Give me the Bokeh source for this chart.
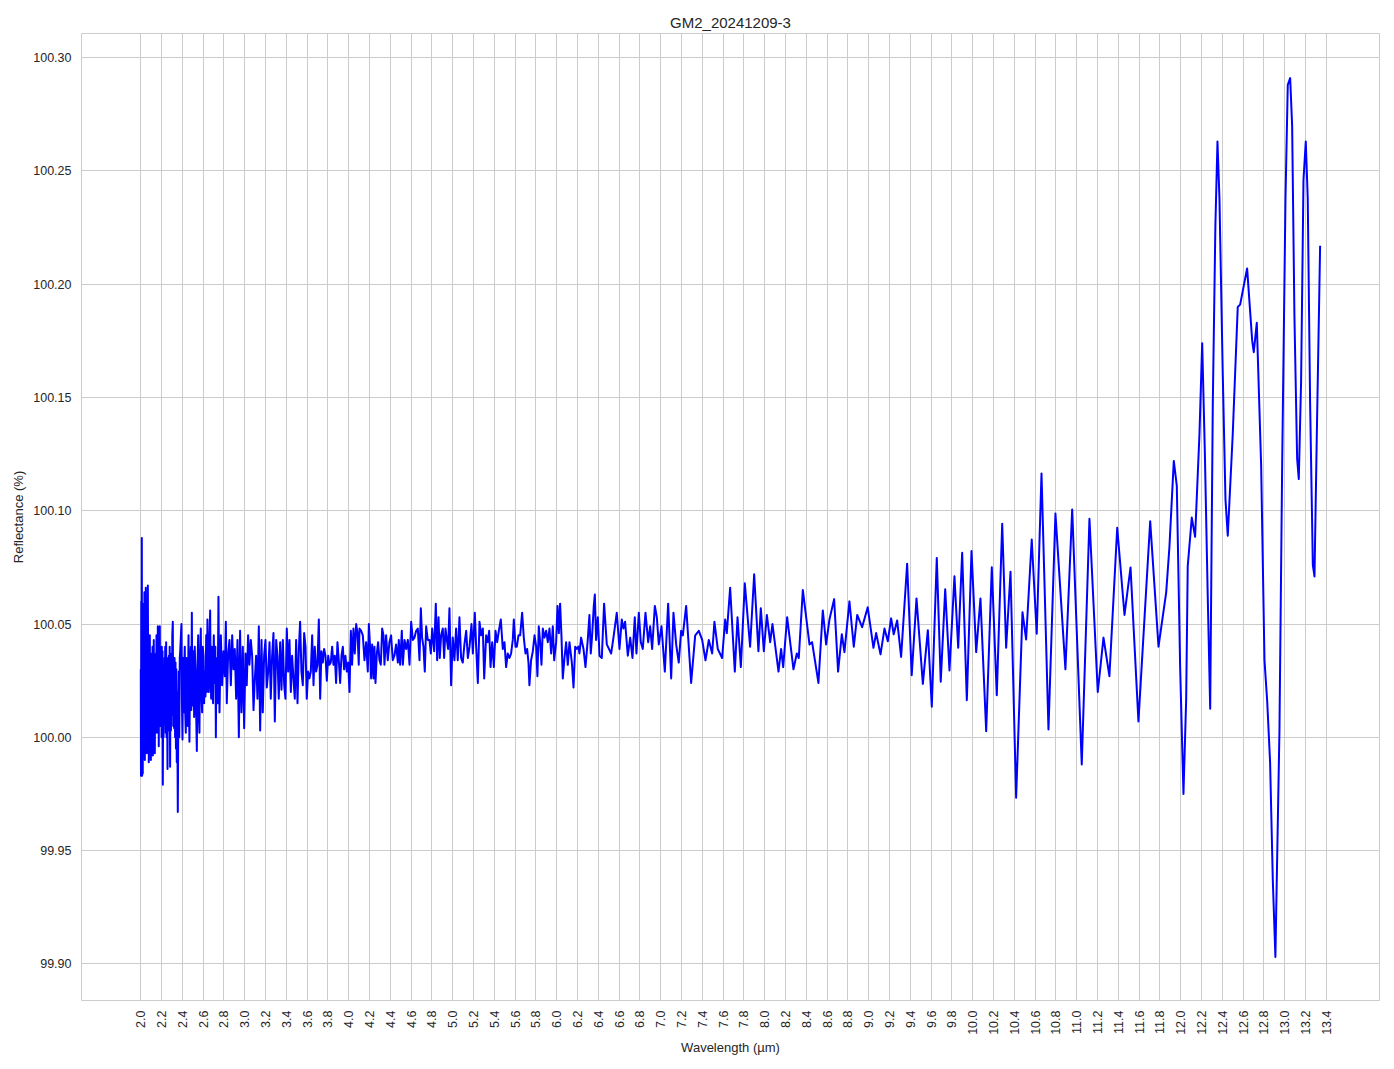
import math
from bokeh.plotting import figure
from bokeh.models import Range1d, FixedTicker, PrintfTickFormatter, ColumnDataSource
from bokeh.embed import file_html
from bokeh.resources import INLINE

# ---- data ----
wl_dense = [
    2.000,2.002,2.005,2.008,2.010,2.013,2.016,2.019,2.022,2.025,
    2.029,2.032,2.035,2.039,2.042,2.045,2.048,2.052,2.055,2.058,
    2.062,2.065,2.068,2.072,2.075,2.077,2.081,2.084,2.087,2.091,
    2.094,2.097,2.101,2.104,2.106,2.110,2.113,2.116,2.120,2.123,
    2.125,2.129,2.132,2.135,2.139,2.142,2.145,2.149,2.151,2.154,
    2.158,2.161,2.164,2.168,2.171,2.173,2.177,2.180,2.183,2.187,
    2.190,2.193,2.197,2.200,2.202,2.206,2.209,2.212,2.216,2.219,
    2.222,2.226,2.229,2.231,2.235,2.240,2.244,2.248,2.252,2.257,
    2.261,2.265,2.270,2.274,2.278,2.282,2.286,2.290,2.295,2.299,
    2.303,2.308,2.312,2.316,2.321,2.325,2.330,2.334,2.338,2.342,
    2.346,2.350,2.356,2.361,2.366,2.370,2.375,2.379,
    2.391,2.396,2.401,2.406,2.411,2.417,2.423,2.428,2.433,2.440,
    2.446,2.452,2.459,2.463,2.468,2.474,2.481,2.486,2.491,2.495,
    2.500,2.506,2.513,2.519,2.526,2.532,2.539,2.545,2.552,2.558,
    2.564,2.570,2.577,2.583,2.590,2.596,2.603,2.609,2.616,2.622,
    2.629,2.635,2.641,2.648,2.654,2.660,2.667,2.672,2.677,2.683,
    2.689,2.695,2.702,2.707,2.712,2.717,2.722,2.727,2.731,2.739,
    2.747,2.752,2.757,
]
refl_dense = [
    100.030,99.983,100.060,99.985,100.088,99.983,100.058,99.984,100.040,100.000,
    100.059,99.992,100.064,99.990,100.030,99.995,100.066,100.005,100.045,99.993,
    100.035,100.000,100.067,100.010,100.040,99.989,100.030,100.000,100.045,99.995,
    100.035,99.990,100.030,100.005,100.037,99.998,100.040,99.992,100.025,100.008,
    100.043,100.000,100.030,99.993,100.035,100.004,100.037,100.010,100.045,100.002,
    100.030,100.006,100.049,100.004,100.035,99.996,100.030,100.010,100.049,100.005,
    100.035,100.017,100.030,100.000,100.040,100.005,100.038,99.979,100.030,100.000,
    100.029,100.006,100.035,100.011,100.040,100.002,100.042,100.000,100.030,99.986,
    100.035,100.003,100.036,100.005,100.040,99.987,100.030,100.003,100.037,100.010,
    100.045,100.051,100.005,100.030,100.004,100.035,100.000,100.033,99.995,100.030,
    99.989,100.020,99.967,100.010,100.029,100.000,100.035,100.038,
    100.050,100.015,99.999,100.035,100.011,100.030,100.040,100.010,100.002,100.035,
    100.027,100.005,100.045,100.015,99.998,100.032,100.040,100.012,100.055,100.020,
    100.014,100.038,100.009,100.040,100.029,100.012,99.994,100.030,100.045,100.010,
    100.002,100.033,100.048,100.020,100.011,100.040,100.036,100.015,100.029,100.018,
    100.045,100.020,100.052,100.030,100.020,100.040,100.056,100.025,100.017,100.040,
    100.034,100.015,100.045,100.030,100.024,100.040,100.000,100.035,100.029,100.015,
    100.062,100.030,100.011,
]

wl_noisy = [
    2.770,2.782,2.795,2.808,2.818,2.827,2.840,2.853,2.866,2.879,
    2.891,2.904,2.917,2.930,2.943,2.955,2.968,2.981,2.994,3.007,
    3.019,3.032,3.045,3.058,3.071,3.084,3.096,3.109,3.122,3.135,
    3.148,3.161,3.173,3.186,3.199,3.212,3.225,3.238,3.250,3.263,
    3.276,3.289,3.302,3.314,3.327,3.340,3.353,3.366,3.379,3.391,
    3.404,3.417,3.430,3.443,3.455,3.468,3.481,3.494,3.507,3.520,
    3.532,3.545,3.558,3.571,3.584,3.596,3.609,3.622,3.635,3.648,
    3.661,3.673,3.686,3.699,3.712,3.725,3.737,3.750,3.763,3.776,
    3.789,3.802,3.814,3.827,3.840,3.853,3.866,3.878,3.891,3.904,
    3.917,3.930,3.943,3.955,3.968,3.981,3.994,4.007,4.020,4.032,
    4.045,4.058,4.071,4.084,4.096,
]
refl_noisy = [
    100.045,100.023,100.038,100.027,100.051,100.015,100.037,100.043,100.023,100.045,
    100.030,100.039,100.017,100.043,100.000,100.047,100.011,100.040,100.004,100.037,
    100.023,100.045,100.032,100.043,100.036,100.012,100.025,100.036,100.017,100.049,
    100.003,100.043,100.011,100.036,100.043,100.022,100.029,100.042,100.017,100.036,
    100.046,100.007,100.043,100.036,100.017,100.042,100.021,100.043,100.023,100.017,
    100.048,100.029,100.043,100.020,100.036,100.026,100.017,100.043,100.015,100.039,
    100.051,100.029,100.023,100.046,100.040,100.017,100.029,100.026,100.029,100.045,
    100.023,100.040,100.029,100.032,100.052,100.017,100.038,100.033,100.039,100.036,
    100.025,100.036,100.032,100.033,100.040,100.032,100.036,100.024,100.042,100.034,
    100.024,100.036,100.040,100.030,100.036,100.029,100.033,100.020,100.047,100.032,
    100.048,100.037,100.050,100.046,100.032,
]

wl_mid = [
    4.103,4.119,4.135,4.151,4.167,4.183,4.193,4.205,4.215,4.225,
    4.238,4.247,4.257,4.270,4.282,4.295,4.308,4.321,4.334,4.343,
    4.359,4.375,4.391,4.407,4.423,4.439,4.455,4.472,4.481,4.494,
    4.510,4.520,4.536,4.552,4.568,4.584,4.600,4.616,4.632,4.648,
    4.664,4.680,4.693,4.705,4.718,4.731,4.744,4.760,4.776,4.789,
    4.802,4.821,4.837,4.850,4.863,4.875,4.888,4.904,4.917,4.930,
    4.943,4.955,4.968,4.984,5.000,5.016,5.032,5.048,5.064,5.080,
    5.096,5.112,5.129,5.145,5.161,5.180,5.193,5.212,5.225,5.241,
    5.257,5.273,5.289,5.302,5.321,5.337,5.350,5.363,5.379,5.395,
    5.411,5.427,5.443,5.462,5.481,5.497,5.513,5.529,5.545,5.561,
    5.577,5.587,5.603,5.616,5.632,5.648,5.667,5.683,5.699,5.715,
    5.728,5.737,5.753,5.770,5.786,5.802,5.814,5.827,5.840,5.853,
    5.866,5.882,5.898,5.914,5.930,5.946,5.962,5.975,5.994,6.007,
    6.020,6.032,6.045,6.058,6.074,6.090,6.106,6.122,6.145,6.161,
    6.177,6.193,6.209,6.218,6.234,6.257,6.276,6.298,6.314,6.327,
    6.340,6.356,6.366,6.378,6.395,
]
refl_mid = [
    100.048,100.047,100.045,100.034,100.042,100.029,100.050,100.040,100.026,100.041,
    100.026,100.040,100.024,100.037,100.042,100.034,100.032,100.048,100.045,100.032,
    100.045,100.034,100.042,100.045,100.034,100.036,100.041,100.033,100.043,100.032,
    100.047,100.032,100.043,100.039,100.043,100.032,100.051,100.043,100.044,100.047,
    100.048,100.034,100.057,100.044,100.040,100.029,100.049,100.043,100.043,100.037,
    100.048,100.038,100.059,100.034,100.053,100.035,100.045,100.048,100.035,100.048,
    100.043,100.039,100.057,100.023,100.044,100.034,100.048,100.034,100.053,100.035,
    100.033,100.041,100.047,100.035,100.040,100.050,100.037,100.055,100.040,100.024,
    100.051,100.045,100.048,100.026,100.045,100.042,100.047,100.031,100.042,100.031,
    100.047,100.042,100.047,100.052,100.039,100.042,100.031,100.037,100.035,100.037,
    100.043,100.052,100.040,100.040,100.045,100.045,100.055,100.044,100.037,100.039,
    100.033,100.023,100.034,100.038,100.045,100.040,100.027,100.049,100.042,100.032,
    100.048,100.044,100.047,100.042,100.048,100.037,100.049,100.034,100.042,100.058,
    100.046,100.059,100.045,100.026,100.035,100.042,100.032,100.042,100.033,100.022,
    100.040,100.039,100.040,100.037,100.044,100.039,100.031,100.043,100.054,100.037,
    100.045,100.058,100.063,100.043,100.053,
]

wl_wave = [
    6.411,6.433,6.455,6.481,6.523,6.545,6.577,6.603,6.625,6.641,
    6.657,6.683,6.706,6.728,6.750,6.766,6.789,6.808,6.827,6.853,
    6.879,6.898,6.917,6.943,6.962,6.981,7.007,7.039,7.071,7.100,
    7.122,7.148,7.173,7.196,7.212,7.244,7.292,7.331,7.366,7.398,
    7.430,7.462,7.494,7.516,7.548,7.590,7.619,7.635,7.667,7.712,
    7.738,7.770,7.808,7.859,7.898,7.939,7.962,7.991,8.020,8.052,
    8.074,8.132,8.157,8.177,8.215,8.276,8.308,8.327,8.366,8.430,
    8.455,8.516,8.558,8.590,8.622,8.667,8.705,
    8.741,8.766,8.814,8.856,8.889,8.936,8.990,9.045,9.071,9.113,
    9.151,9.183,9.215,9.240,9.273,9.311,9.369,9.413,9.459,9.520,
    9.568,9.606,9.654,9.692,9.735,9.776,9.824,9.860,9.898,9.943,
    9.988,10.033,10.074,10.129,10.183,10.231,10.283,10.321,10.363,10.417,
    10.478,10.513,10.567,10.615,10.661,10.728,10.795,
]
refl_wave = [
    100.036,100.035,100.059,100.041,100.037,100.044,100.055,100.039,100.052,100.048,
    100.051,100.036,100.044,100.035,100.053,100.037,100.055,100.042,100.039,100.055,
    100.042,100.049,100.039,100.058,100.053,100.041,100.049,100.029,100.059,100.026,
    100.055,100.041,100.033,100.047,100.045,100.058,100.024,100.045,100.047,100.043,
    100.034,100.043,100.037,100.051,100.039,100.035,100.052,100.046,100.066,100.029,
    100.053,100.031,100.068,100.040,100.072,100.038,100.057,100.038,100.054,100.042,
    100.050,100.029,100.039,100.031,100.053,100.030,100.037,100.035,100.065,100.041,
    100.042,100.024,100.056,100.041,100.052,100.061,100.029,
    100.0455,100.0376,100.060,100.040,100.054,100.0486,100.0574,100.0395,100.046,100.0366,
    100.048,100.0424,100.0525,100.0455,100.0516,100.0355,100.0766,100.0274,100.0613,100.0236,
    100.0473,100.0135,100.0792,100.0245,100.0653,100.0295,100.0711,100.0395,100.0815,100.0164,
    100.0822,100.0376,100.0613,100.0027,100.0751,100.0186,100.0943,100.0395,100.0731,99.9733,
    100.0552,100.0432,100.0873,100.0457,100.1165,100.0034,100.0988,
]

wl_tail = [
    10.891,10.956,11.048,11.122,11.202,11.257,11.314,11.389,11.459,11.517,
    11.593,11.706,11.786,11.860,11.891,11.933,11.962,11.994,12.026,12.052,
    12.067,12.106,12.138,12.180,12.206,12.231,12.260,12.283,12.308,12.333,
    12.353,12.372,12.404,12.430,12.452,12.500,12.548,12.571,12.638,12.687,
    12.702,12.731,12.773,12.805,12.831,12.859,12.885,12.910,12.949,12.975,
    13.007,13.029,13.052,13.071,13.093,13.119,13.135,13.157,13.180,13.202,
    13.221,13.244,13.270,13.286,13.308,13.340,
]
refl_tail = [
    100.030,100.1006,99.988,100.0965,100.020,100.044,100.027,100.0925,100.054,100.075,
    100.007,100.0954,100.040,100.064,100.084,100.122,100.111,100.031,99.975,100.0167,
    100.0755,100.097,100.0885,100.134,100.174,100.127,100.061,100.0126,100.147,100.226,
    100.263,100.238,100.160,100.105,100.089,100.134,100.190,100.191,100.207,100.175,
    100.170,100.183,100.120,100.034,100.016,99.989,99.937,99.903,100.003,100.120,
    100.238,100.288,100.291,100.270,100.186,100.123,100.114,100.157,100.246,100.263,
    100.238,100.147,100.076,100.071,100.133,100.217,
]

x_ticks = [2.0,2.2,2.4,2.6,2.8,3.0,3.2,3.4,3.6,3.8,4.0,4.2,4.4,4.6,4.8,5.0,5.2,5.4,5.6,5.8,
           6.0,6.2,6.4,6.6,6.8,7.0,7.2,7.4,7.6,7.8,8.0,8.2,8.4,8.6,8.8,9.0,9.2,9.4,9.6,9.8,
           10.0,10.2,10.4,10.6,10.8,11.0,11.2,11.4,11.6,11.8,12.0,12.2,12.4,12.6,12.8,13.0,13.2,13.4]
y_ticks = [99.90, 99.95, 100.00, 100.05, 100.10, 100.15, 100.20, 100.25, 100.30]

title_text = "GM2_20241209-3"
x_label = "Wavelength (µm)"
y_label = "Reflectance (%)"

wavelength = wl_dense + wl_noisy + wl_mid + wl_wave + wl_tail
reflectance = refl_dense + refl_noisy + refl_mid + refl_wave + refl_tail
assert len(wl_dense) == len(refl_dense)
assert len(wl_noisy) == len(refl_noisy)
assert len(wl_mid) == len(refl_mid)
assert len(wl_wave) == len(refl_wave)
assert len(wl_tail) == len(refl_tail)

src = ColumnDataSource(dict(x=wavelength, y=reflectance))

FONT = "Liberation Sans"
TXT = "#262626"
GRID = "#cccccc"

p = figure(frame_width=1298, frame_height=967,
           min_border_left=81, min_border_right=6, min_border_top=33, min_border_bottom=67,
           x_range=Range1d(1.430, 13.911), y_range=Range1d(99.8838, 100.3107),
           output_backend="svg", toolbar_location=None, background_fill_color="white",
           border_fill_color="white")

p.title.text = title_text
p.title.align = "center"
p.title.text_font = FONT
p.title.text_font_size = "15px"
p.title.text_font_style = "normal"
p.title.text_color = TXT
p.title.standoff = 6

p.line("x", "y", source=src, line_color="blue", line_width=2, line_join="round")

p.xaxis.ticker = FixedTicker(ticks=x_ticks)
p.yaxis.ticker = FixedTicker(ticks=y_ticks)
p.xaxis.formatter = PrintfTickFormatter(format="%.1f")
p.yaxis.formatter = PrintfTickFormatter(format="%.2f")
p.xaxis.major_label_orientation = math.pi / 2

for ax in (p.xaxis, p.yaxis):
    ax.axis_line_color = None
    ax.major_tick_line_color = None
    ax.minor_tick_line_color = None
    ax.major_tick_out = 0
    ax.major_tick_in = 0
    ax.minor_tick_out = 0
    ax.major_label_text_font = FONT
    ax.major_label_text_font_size = "12.5px"
    ax.major_label_text_color = TXT
    ax.axis_label_text_font = FONT
    ax.axis_label_text_font_size = "13px"
    ax.axis_label_text_font_style = "normal"
    ax.axis_label_text_color = TXT
    ax.major_label_standoff = 10

p.xaxis.axis_label = x_label
p.yaxis.axis_label = y_label
p.xaxis.axis_label_standoff = 2
p.yaxis.axis_label_standoff = 4

p.xgrid.grid_line_color = GRID
p.ygrid.grid_line_color = GRID
p.xgrid.grid_line_width = 1
p.ygrid.grid_line_width = 1
p.outline_line_color = GRID
p.outline_line_width = 1

open("out.html", "w").write(file_html(p, INLINE))
